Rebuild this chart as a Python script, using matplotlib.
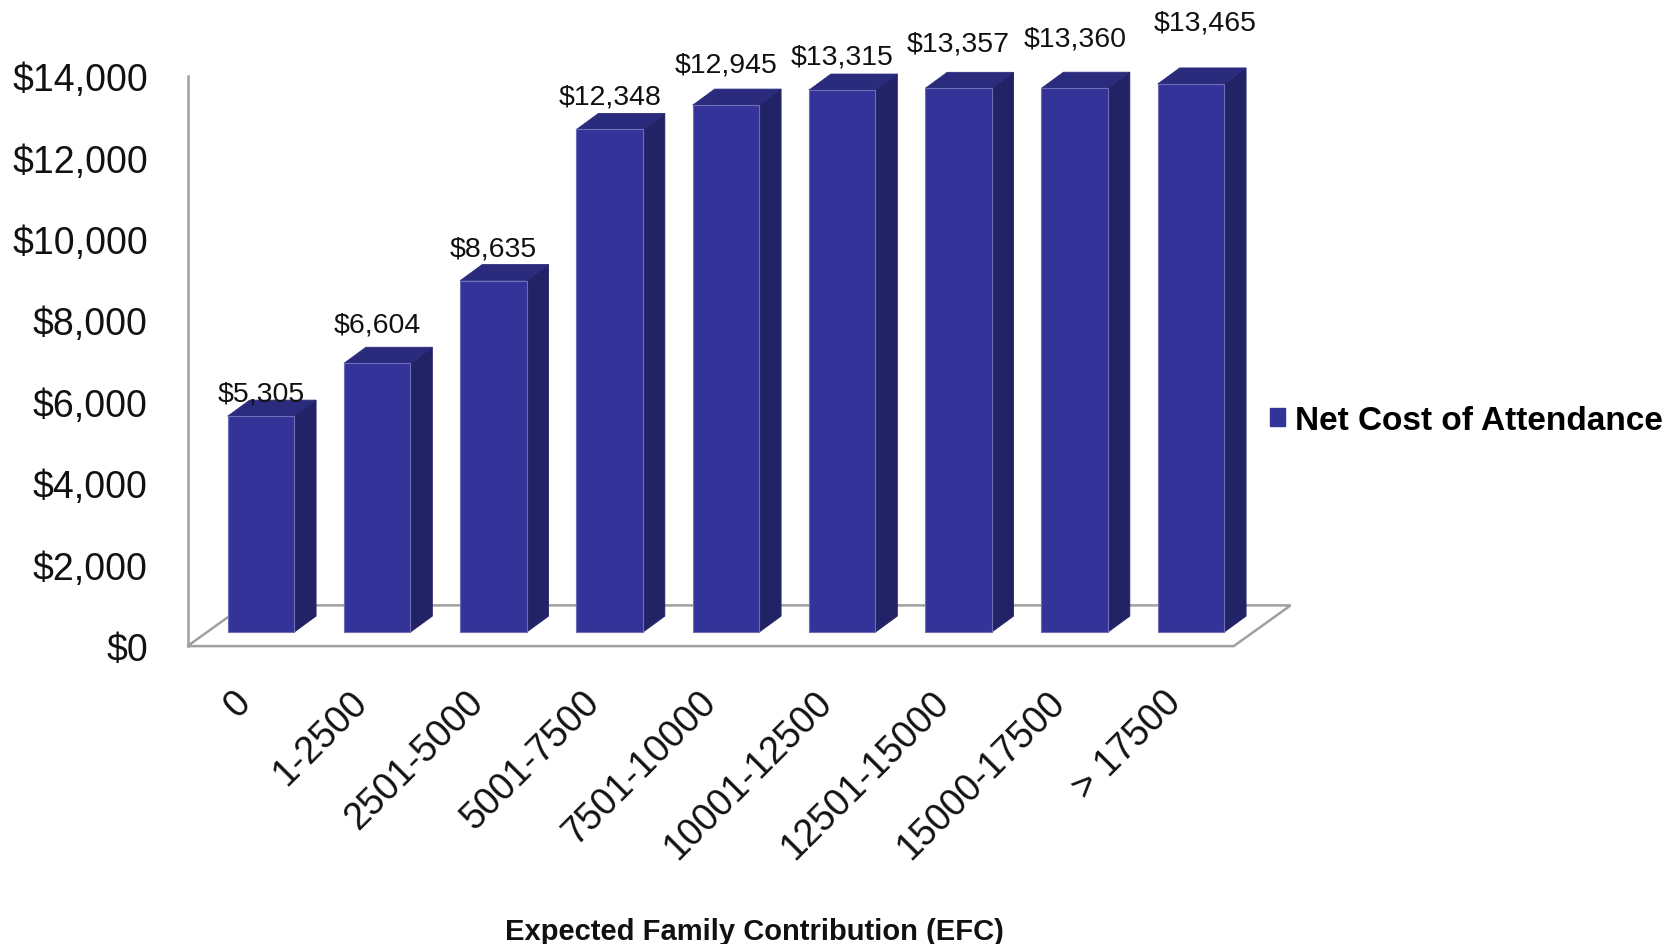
import matplotlib
matplotlib.use("Agg")
import matplotlib.pyplot as plt
from matplotlib.patches import Polygon, Patch

plt.rcParams['font.family'] = ['Liberation Sans', 'DejaVu Sans']

# ---- data ----
categories = ["0", "1-2500", "2501-5000", "5001-7500", "7501-10000",
              "10001-12500", "12501-15000", "15000-17500", "> 17500"]
net_cost = [5305, 6604, 8635, 12348, 12945, 13315, 13357, 13360, 13465]
series_name = "Net Cost of Attendance"
y_ticks = [0, 2000, 4000, 6000, 8000, 10000, 12000, 14000]
y_tick_labels = ["$0", "$2,000", "$4,000", "$6,000", "$8,000",
                 "$10,000", "$12,000", "$14,000"]
x_title = "Expected Family Contribution (EFC)"

# ---- layout / style (pseudo-3D geometry) ----
label_lift_pt = [16, 28, 23, 24, 29, 24, 32, 36, 44]
label_shift_pt = [0, 0, 0, 0, 0, 0, 0, 0, 10]
FRONT = '#333399'
TOP = '#2b2b7d'
SIDE = '#222266'
EDGE = '#6f6fb5'
GRAY = '#a0a0a0'

floor_dx, floor_dy = 0.489, 1000.0      # depth of floor (data units)
bar_left, bar_w = 0.346, 0.571         # bar front face within slot
bar_base = 342.0                       # bar bottom lifted by depth
side_dx, side_dy = 0.189, 395.0        # bar depth
tick_shift = 0.39                      # x tick label anchor within slot

W, H = 1680, 945
fig = plt.figure(figsize=(W / 100, H / 100), dpi=100)
ax_left_px, ax_right_px = 187.5, 1340.0
ax_bottom_px = 647.1
unit_px = 116.25
ax = fig.add_axes([ax_left_px / W, (H - ax_bottom_px) / H,
                   (ax_right_px - ax_left_px) / W, ax_bottom_px / H])
ax.set_xlim(0, (ax_right_px - ax_left_px) / unit_px)
ax.set_ylim(0, ax_bottom_px / 0.04071)

n = len(categories)
# floor
ax.add_patch(Polygon([(0, 0), (n, 0), (n + floor_dx, floor_dy), (floor_dx, floor_dy)],
                     closed=True, facecolor='white', edgecolor=GRAY, lw=1.8,
                     zorder=1, clip_on=False))

for i, v in enumerate(net_cost):
    x0 = i + bar_left
    x1 = x0 + bar_w
    yb = bar_base
    yt = bar_base + v
    # side
    ax.add_patch(Polygon([(x1, yb), (x1 + side_dx, yb + side_dy),
                          (x1 + side_dx, yt + side_dy), (x1, yt)],
                         closed=True, facecolor=SIDE, edgecolor=SIDE, lw=0.6, zorder=3))
    # top
    ax.add_patch(Polygon([(x0, yt), (x1, yt), (x1 + side_dx, yt + side_dy),
                          (x0 + side_dx, yt + side_dy)],
                         closed=True, facecolor=TOP, edgecolor=TOP, lw=0.6, zorder=3))
    # front
    ax.add_patch(Polygon([(x0, yb), (x1, yb), (x1, yt), (x0, yt)],
                         closed=True, facecolor=FRONT, edgecolor=EDGE, lw=0.8, zorder=4))
    ax.annotate(f"${v:,}", xy=((x0 + x1) / 2, yt),
                xytext=(label_shift_pt[i], label_lift_pt[i]), textcoords='offset points',
                ha='center', va='center', fontsize=20.5, color='#111111', zorder=6,
                annotation_clip=False)

# axes styling
for s in ['top', 'right', 'bottom']:
    ax.spines[s].set_visible(False)
ax.spines['left'].set_color(GRAY)
ax.spines['left'].set_linewidth(1.8)
ax.spines['left'].set_bounds(0, 14000)
ax.spines['left'].set_zorder(2)

ax.set_yticks(y_ticks)
ax.set_yticklabels(y_tick_labels, fontsize=27, color='#111111')
ax.tick_params(axis='y', length=0, pad=28.5)

ax.set_xticks([i + tick_shift for i in range(n)])
ax.set_xticklabels(categories, fontsize=27, color='#111111')
ax.tick_params(axis='x', length=0, pad=27)
for lab in ax.get_xticklabels():
    lab.set_rotation(45)
    lab.set_ha('right')
    lab.set_va('top')
    lab.set_rotation_mode('anchor')

ax.patch.set_alpha(0)

fig.text(754 / W, 1 - 932 / H, x_title, ha='center', va='center',
         fontsize=21, fontweight='bold', color='#111111')

fig.legend(handles=[Patch(facecolor=FRONT, edgecolor=FRONT)], labels=[series_name],
           loc='center left', bbox_to_anchor=(1269.6 / W, 1 - 421 / H),
           frameon=False, prop={'size': 24, 'weight': 'bold'},
           handlelength=0.45, handleheight=0.45, handletextpad=0.3,
           borderpad=0, borderaxespad=0)

fig.savefig("out.png", dpi=100, facecolor='white')
